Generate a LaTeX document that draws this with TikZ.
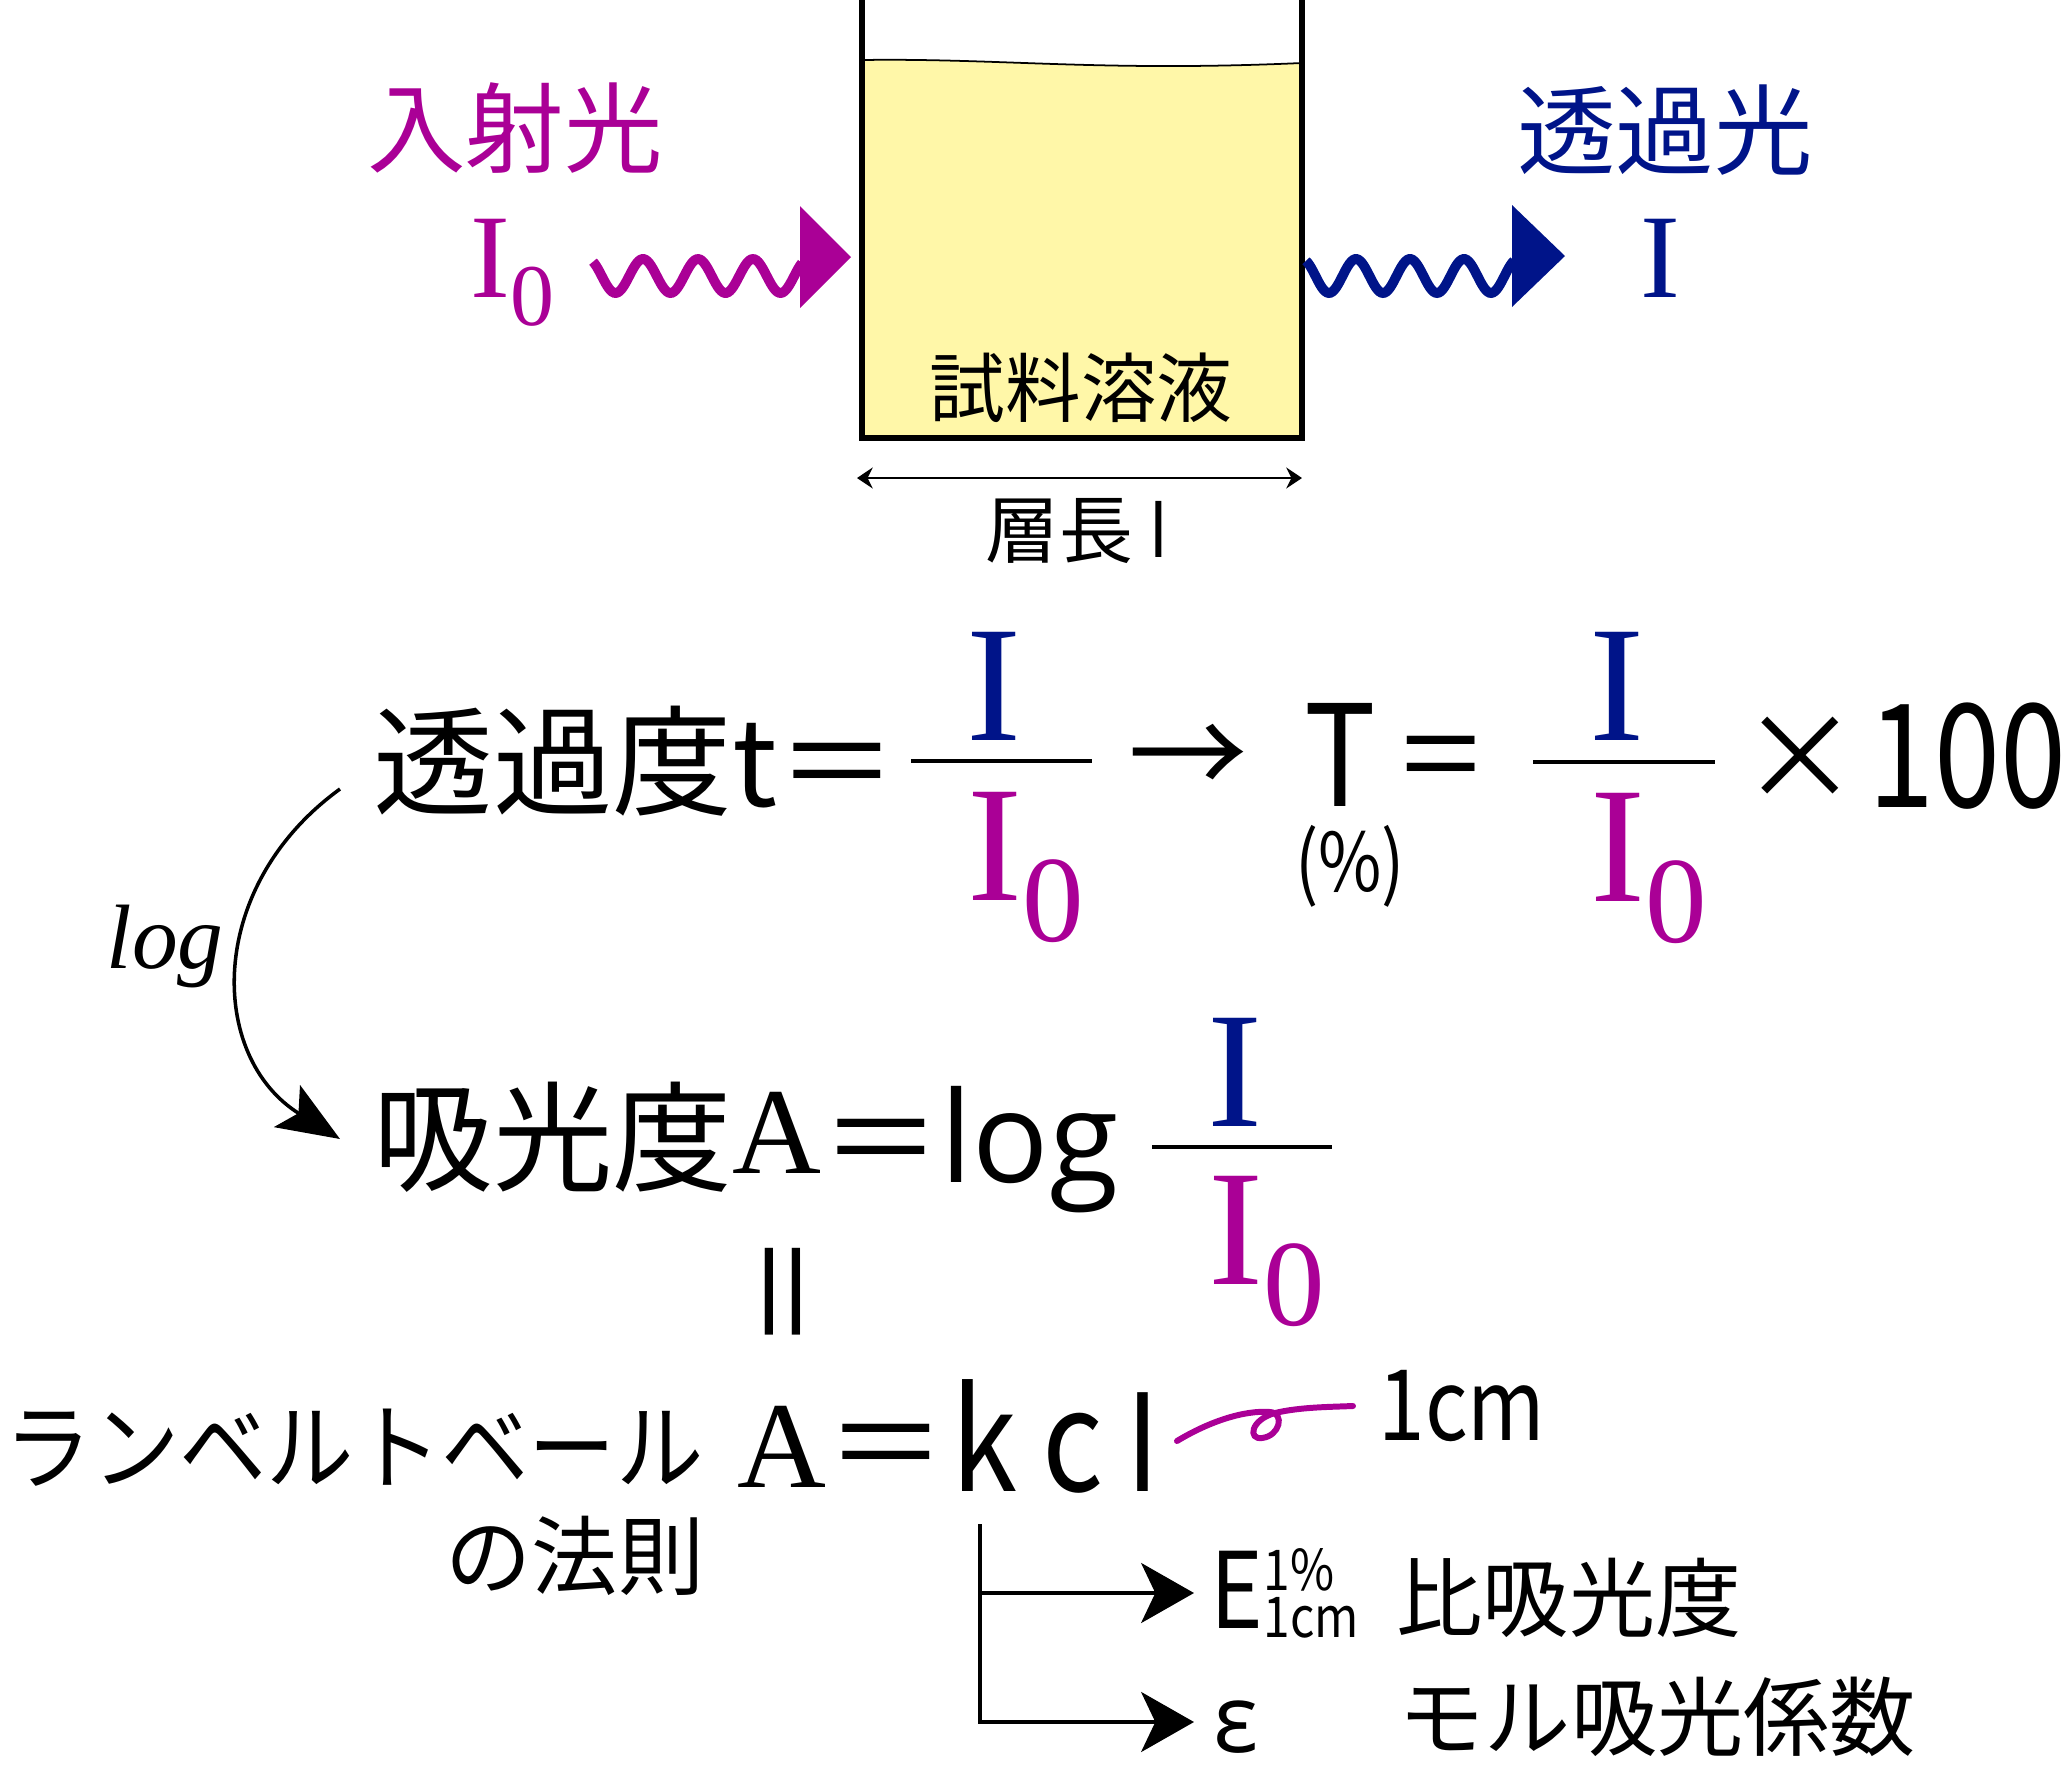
\documentclass[tikz,border=0pt]{standalone}
\usepackage{fontspec}
\usepackage{graphicx}
\setmainfont{Noto Sans CJK JP}
\newfontfamily\timesf{Liberation Serif}
\newfontfamily\opensf{Open Sans}
\newfontfamily\narrowf{Noto Sans CJK JP}[FakeStretch=0.85]
\newfontfamily\katakf{Noto Sans CJK JP}[FakeStretch=0.92]
\usetikzlibrary{arrows.meta}

\definecolor{mag}{RGB}{170,0,150}
\definecolor{navy}{RGB}{0,20,137}
\definecolor{liquid}{RGB}{255,247,168}

\newcommand{\fs}[1]{\fontsize{#1}{#1}\selectfont}
\newcommand{\Isub}[3]{{\timesf\fs{#1}I}\raisebox{-#3}{\timesf\fs{#2}0}}

\begin{document}
\begin{tikzpicture}[x=0.01cm, y=-0.01cm,
  every node/.style={inner sep=0pt},
  wave/.style={line width=2.8pt},
  bar/.style={line width=1.4pt},
  branch/.style={line width=1.4pt, -{Stealth[length=15pt, width=17pt, inset=4pt]}}]

\useasboundingbox (0,0) rectangle (2068,1784);

%cell
\fill[liquid] (862,60) .. controls (1000,58) and (1100,72) .. (1302,63) -- (1302,438) -- (862,438) -- cycle;
\draw[line width=0.5pt] (862,60) .. controls (1000,58) and (1100,72) .. (1302,63);
\draw[line width=1.5pt] (862,0) -- (862,438) -- (1302,438) -- (1302,0);
\node[font=\fs{21.5}] (sample) at (1081,388) {試料溶液};
\coordinate (lenL) at (857,478);
\coordinate (lenR) at (1302,478);
\draw[line width=0.6pt, {Stealth[length=4.5pt, width=6pt, inset=1.5pt]}-{Stealth[length=4.5pt, width=6pt, inset=1.5pt]}] (lenL) -- (lenR);
\node[font=\fs{21}] (len) at (1077,531) {層長 {\opensf l}};

%incident
\node[mag, font=\fs{28}] (inc) at (515,128) {入射光};
\node[mag, anchor=base west] (I0) at (470,297) {\Isub{34}{25}{8pt}};
\draw[mag, wave] plot[domain=593:802, samples=120] (\x, {276-17*cos(6.5455*(\x-643))});
\fill[mag] (800,206) -- (851,257) -- (800,308) -- cycle;

%transmitted
\node[navy, font=\fs{28}] (trans) at (1665,130) {透過光};
\node[navy, anchor=base] (I) at (1660,297) {\timesf\fs{34}I};
\draw[navy, wave] plot[domain=1306:1514, samples=120] (\x, {276-17*cos(6.6667*(\x-1356))});
\fill[navy] (1512,205) -- (1565,256) -- (1512,307) -- cycle;

%transmittance
\node[anchor=base west, font=\fs{34}] (tt) at (373,806) {透過度t＝};
\draw[bar] (911,761) -- (1092,761);
\node[navy, anchor=base] (tI) at (994,740) {\timesf\fs{47}I};
\node[mag, anchor=base west] (tI0) at (967,900) {\Isub{47}{35}{11.7pt}};
\node[font=\fs{34}] (to) at (1188,761) {→};
\node[anchor=base, font=\narrowf\fs{40}] (T) at (1340,806) {T};
\node[font=\narrowf\fs{23}] (pct) at (1350,866) {(\%)};
\node[font=\fs{34}] (eq) at (1441,768) {\scalebox{0.78}[1]{＝}};
\draw[bar] (1533,762) -- (1715,762);
\node[navy, anchor=base] (TI) at (1617,740) {\timesf\fs{47}I};
\node[mag, anchor=base west] (TI0) at (1590,901) {\Isub{47}{35}{11.7pt}};
\node[font=\fs{34}] (times) at (1800,759) {×};
\node[anchor=base west, font=\narrowf\fs{41}] (hund) at (1868,807) {\scalebox{0.97}[1]{100}};

%absorbance
\node[anchor=base west, font=\fs{34}] (ab) at (373,1182) {吸光度{\timesf\fs{35}\raisebox{2.3pt}{A}}＝{\opensf\fs{36}log}};
\draw[bar] (1152,1147) -- (1332,1147);
\node[navy, anchor=base] (aI) at (1235,1126) {\timesf\fs{47}I};
\node[mag, anchor=base west] (aI0) at (1208,1284) {\Isub{47}{35}{11.7pt}};
\node[font=\timesf\itshape\fs{26}, anchor=base] (lg) at (165,968) {log};
\draw[line width=1pt, -{Stealth[length=17.7pt, width=14pt, inset=3.8pt]}] ([shift={(-33,-17)}]tt.base west) .. controls (205,887) and (208,1057) .. ([shift={(-33,-43)}]ab.base west);
\node[rotate=90, font=\fs{34}] (par) at (797,1292) {＝};

%Lambert-Beer
\node[anchor=base west, font=\katakf\fs{27}] (lb) at (4,1482) {ランベルトベール};
\node[font=\fs{24.5}] (law) at (575,1556) {の法則};
\node[anchor=base west] (Aeq) at (737,1487) {{\timesf\fs{35}A}{\fs{34}＝}};
\node[anchor=base west, font=\narrowf\fs{40}] (k) at (951,1491) {k};
\node[anchor=base west, font=\narrowf\fs{40}] (c) at (1042,1491) {c};
\node[anchor=base west, font=\opensf\fs{37}] (l) at (1126,1491) {l};
\node[anchor=base west, font=\narrowf\fs{28}] (cm) at (1378,1440) {1cm};
\coordinate (curlA) at (1177,1441);
\coordinate (curlB) at (1353,1406);
\draw[mag, line width=1.7pt, line cap=round] (curlA) .. controls (1210,1421) and (1245,1410) .. (1270,1412)
  .. controls (1285,1413) and (1280,1436) .. (1262,1438)
  .. controls (1248,1440) and (1250,1420) .. (1275,1413)
  .. controls (1300,1407) and (1330,1407) .. (curlB);

%branches
\coordinate (fork) at (980,1524);
\node[anchor=base west, font=\narrowf\fs{30}] (E) at (1210,1628) {E\rlap{\raisebox{10.6pt}{\fs{16}1\%}}\raisebox{-2.8pt}{\fs{16}1cm}};
\node[anchor=base west, font=\opensf\fs{27}] (eps) at (1213,1752) {ε};
\draw[branch] (fork) |- ([shift={(-16,-35)}]E.base west);
\draw[branch] (fork) |- ([shift={(-19,-30)}]eps.base west);
\node[anchor=west, font=\fs{24.5}] (spec) at (1396,1598) {比吸光度};
\node[anchor=west, font=\fs{24.5}] (molar) at (1398,1717) {モル吸光係数};

\end{tikzpicture}
\end{document}
